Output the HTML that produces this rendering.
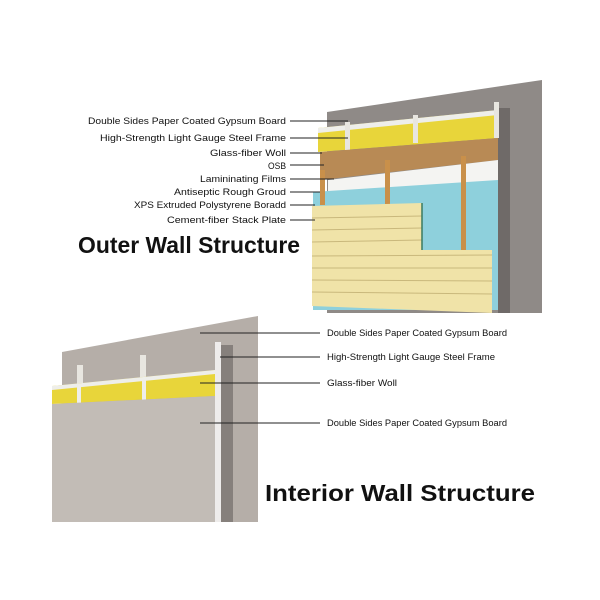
<!DOCTYPE html>
<html><head><style>body{margin:0;background:#fff}svg{display:block}</style></head><body>
<svg width="600" height="600" viewBox="0 0 600 600" xmlns="http://www.w3.org/2000/svg" font-family="Liberation Sans, sans-serif">
<rect width="600" height="600" fill="#fff"/>
<!-- outer wall -->
<polygon points="327,112 542,80 542,313 327,313" fill="#8f8a87"/>
<rect x="498" y="108" width="12" height="205" fill="#6f6a68"/>
<polygon points="318,128 498,110 498,138 318,152" fill="#e8d53a"/>
<polygon points="318,128 498,110 498,115 318,133" fill="#eeeeea"/>
<rect x="345" y="122" width="5" height="28" fill="#e8e6e0"/>
<rect x="413" y="115" width="5" height="28" fill="#e8e6e0"/>
<rect x="494" y="102" width="5" height="36" fill="#e8e6e0"/>
<polygon points="320,152 498,138 498,160 320,180" fill="#b88a55"/>
<polygon points="328,180 498,160 498,182 328,192" fill="#f4f4f2"/>
<polygon points="313,192 498,180 498,310 313,310" fill="#8ed0dc"/>
<rect x="385" y="160" width="5" height="90" fill="#c9904a"/>
<rect x="461" y="156" width="5" height="95" fill="#c9904a"/>
<rect x="320" y="170" width="5" height="35" fill="#c9904a"/>
<polygon points="312,206 422,203 422,250 492,250 492,313 312,306" fill="#f0e3a8"/>
<g stroke="#c9b87c" stroke-width="1">
<line x1="312" y1="218" x2="422" y2="216"/><line x1="312" y1="230" x2="422" y2="228"/>
<line x1="312" y1="242" x2="422" y2="240"/><line x1="312" y1="256" x2="492" y2="255"/>
<line x1="312" y1="268" x2="492" y2="268"/><line x1="312" y1="280" x2="492" y2="281"/>
<line x1="312" y1="292" x2="492" y2="294"/></g>
<line x1="422" y1="203" x2="422" y2="250" stroke="#3a7a60" stroke-width="1.5"/>
<!-- outer labels -->
<g font-size="9.5" text-anchor="end" fill="#111">
<text x="286" y="124" textLength="198" lengthAdjust="spacingAndGlyphs">Double Sides Paper Coated Gypsum Board</text>
<text x="286" y="141" textLength="186" lengthAdjust="spacingAndGlyphs">High-Strength Light Gauge Steel Frame</text>
<text x="286" y="156" textLength="76" lengthAdjust="spacingAndGlyphs">Glass-fiber Woll</text>
<text x="286" y="169" textLength="18" lengthAdjust="spacingAndGlyphs">OSB</text>
<text x="286" y="182" textLength="86" lengthAdjust="spacingAndGlyphs">Lamininating Films</text>
<text x="286" y="195" textLength="112" lengthAdjust="spacingAndGlyphs">Antiseptic Rough Groud</text>
<text x="286" y="208" textLength="152" lengthAdjust="spacingAndGlyphs">XPS Extruded Polystyrene Boradd</text>
<text x="286" y="223" textLength="119" lengthAdjust="spacingAndGlyphs">Cement-fiber Stack Plate</text>
</g>
<g stroke="#222" stroke-width="1">
<line x1="290" y1="121" x2="348" y2="121"/><line x1="290" y1="138" x2="348" y2="138"/>
<line x1="290" y1="153" x2="322" y2="153"/><line x1="290" y1="165" x2="324" y2="165"/>
<line x1="290" y1="179" x2="334" y2="179"/><line x1="290" y1="192" x2="320" y2="192"/>
<line x1="290" y1="205" x2="315" y2="205"/><line x1="290" y1="220" x2="315" y2="220"/></g>
<text x="78" y="253" font-size="23" font-weight="bold" fill="#111" textLength="222" lengthAdjust="spacingAndGlyphs">Outer Wall Structure</text>
<!-- interior wall -->
<polygon points="62,352 258,316 258,522 62,522" fill="#b5aea8"/>
<rect x="77" y="365" width="6" height="30" fill="#e8e6e0"/>
<rect x="140" y="355" width="6" height="30" fill="#e8e6e0"/>
<polygon points="52,386 215,370 215,396 52,404" fill="#e8d53a"/>
<polygon points="52,386 215,370 215,374 52,390" fill="#eeeeea"/>
<rect x="77" y="386" width="4" height="18" fill="#eeeeea"/><rect x="142" y="380" width="4" height="20" fill="#eeeeea"/>
<polygon points="52,404 215,396 215,522 52,522" fill="#c2bcb6"/>
<rect x="215" y="342" width="6" height="180" fill="#eeeceb"/>
<rect x="221" y="345" width="12" height="177" fill="#86807c"/>
<g font-size="9" fill="#111">
<text x="327" y="336" textLength="180" lengthAdjust="spacingAndGlyphs">Double Sides Paper Coated Gypsum Board</text>
<text x="327" y="360" textLength="168" lengthAdjust="spacingAndGlyphs">High-Strength Light Gauge Steel Frame</text>
<text x="327" y="386" textLength="70" lengthAdjust="spacingAndGlyphs">Glass-fiber Woll</text>
<text x="327" y="426" textLength="180" lengthAdjust="spacingAndGlyphs">Double Sides Paper Coated Gypsum Board</text>
</g>
<g stroke="#222" stroke-width="1">
<line x1="200" y1="333" x2="320" y2="333"/><line x1="220" y1="357" x2="320" y2="357"/>
<line x1="200" y1="383" x2="320" y2="383"/><line x1="200" y1="423" x2="320" y2="423"/></g>
<text x="265" y="501" font-size="23" font-weight="bold" fill="#111" textLength="270" lengthAdjust="spacingAndGlyphs">Interior Wall Structure</text>
</svg>
</body></html>
